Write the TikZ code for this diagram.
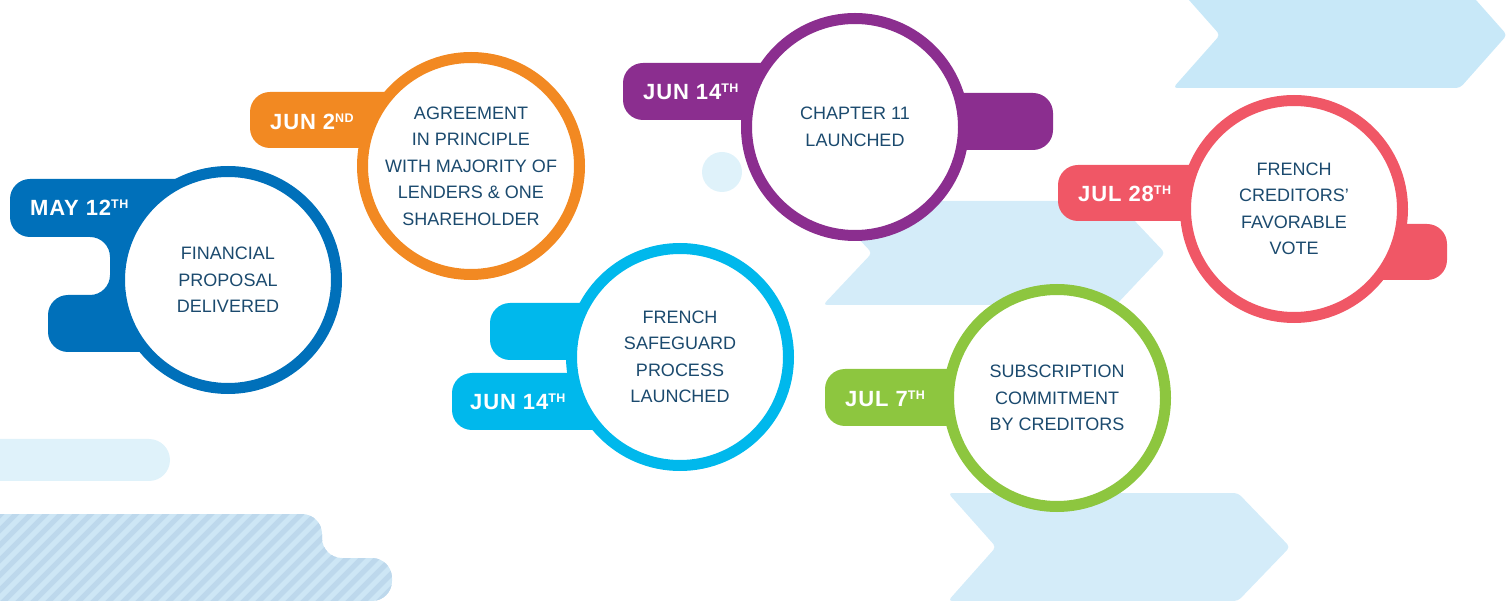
\documentclass[tikz,border=0pt]{standalone}
\usepackage{fontspec}
\setmainfont{Liberation Sans}
\newfontfamily\datefont[LetterSpace=4.0]{Liberation Sans}
\usetikzlibrary{calc}
\definecolor{bleu}{RGB}{0,112,186}
\definecolor{orangef}{RGB}{242,137,34}
\definecolor{violetf}{RGB}{139,46,143}
\definecolor{cyanf}{RGB}{0,184,236}
\definecolor{vert}{RGB}{141,198,63}
\definecolor{rouge}{RGB}{240,87,102}
\definecolor{encre}{RGB}{27,74,110}
\definecolor{ciel}{RGB}{212,236,249}
\definecolor{cielb}{RGB}{200,232,248}
\definecolor{brume}{RGB}{223,242,250}
\definecolor{raye}{RGB}{205,230,245}
\definecolor{rayeb}{RGB}{189,216,236}
\tikzset{%
	% Specifications for style of nodes:
	ring/.style = {circle, draw=#1, line width=11pt, fill=white, minimum size=217pt,
	inner sep=0pt, text=encre, align=center, font=\fontsize{18}{26.5}\selectfont},
	datelbl/.style = {anchor=base west, inner sep=0pt, text=white,
	font=\datefont\fontsize{22}{22}\selectfont\bfseries},
	tab/.style = {fill=#1, rounded corners=20pt},
	chevron/.style = {fill=#1, rounded corners=4pt}
}
\newcommand{\ordsup}[1]{\raisebox{7pt}{\fontsize{12.5}{12.5}\selectfont #1}}

\begin{document}
\begin{tikzpicture}[x=1pt, y=-1pt]
		\useasboundingbox (0,0) rectangle (1508,601);
		% background shapes
		\fill[chevron=cielb] (1173,-18) -- (1460,-18) -- (1507,35) -- (1460,88) -- (1173,88) -- (1220,35) -- cycle;
		\fill[chevron=ciel] (823,201) -- (1116,201) -- (1165,253) -- (1116,305) -- (823,305) -- (872,253) -- cycle;
		\fill[chevron=ciel] (948,493) -- (1238,493) -- (1290,547) -- (1238,601) -- (948,601) -- (996,547) -- cycle;
		\fill[brume] (722,172) circle (20);
		\fill[brume, rounded corners=21pt] (-40,439) rectangle (170,481);
		\begin{scope}
			\path[clip, rounded corners=20pt] (-40,514) -- (322,514) -- (322,558) -- (392,558) -- (392,601) -- (-40,601) -- cycle;
			\fill[raye] (-40,500) rectangle (400,620);
			\foreach \k in {-150,-135,...,405}
				\draw[rayeb, line width=5.3pt] (\k,620) -- ++(150,-150);
		\end{scope}
		
		% Specification of tabs
		\fill[tab=bleu] (10,179) -- (229,179) -- (229,352) -- (48,352) -- (48,295) -- (110,295) -- (110,237) -- (10,237) -- cycle;
		\fill[tab=orangef] (250,92) rectangle (471,148);
		\fill[tab=violetf] (623,63) rectangle (855,120);
		\fill[tab=violetf] (855,93) rectangle (1053,150);
		\fill[tab=cyanf] (490,303) rectangle (680,360);
		\fill[tab=cyanf] (452,373) rectangle (680,430);
		\fill[tab=vert] (825,369) rectangle (1057,426);
		\fill[tab=rouge] (1058,165) rectangle (1294,221);
		\fill[tab=rouge] (1294,224) rectangle (1447,280);
		
		% Specification of nodes (position, etc.)
		\node (s1) [ring=bleu] at (228,280) {FINANCIAL\\PROPOSAL\\DELIVERED};
		\node (s2) [ring=orangef] at (471,166) {AGREEMENT\\IN PRINCIPLE\\WITH MAJORITY OF\\LENDERS \& ONE\\SHAREHOLDER};
		\node (s3) [ring=violetf] at (855,127) {CHAPTER 11\\LAUNCHED};
		\node (s4) [ring=cyanf] at (680,357) {FRENCH\\SAFEGUARD\\PROCESS\\LAUNCHED};
		\node (s5) [ring=vert] at (1057,398) {SUBSCRIPTION\\COMMITMENT\\BY CREDITORS};
		\node (s6) [ring=rouge] at (1294,209) {FRENCH\\CREDITORS’\\FAVORABLE\\VOTE};
		
		\node (d1) [datelbl] at (30,216) {MAY 12\ordsup{TH}};
		\node (d2) [datelbl] at (270,130) {JUN 2\ordsup{ND}};
		\node (d3) [datelbl] at (643,100) {JUN 14\ordsup{TH}};
		\node (d4) [datelbl] at (470,410) {JUN 14\ordsup{TH}};
		\node (d5) [datelbl] at (845,407) {JUL 7\ordsup{TH}};
		\node (d6) [datelbl] at (1078,202) {JUL 28\ordsup{TH}};
		
\end{tikzpicture}
\end{document}
